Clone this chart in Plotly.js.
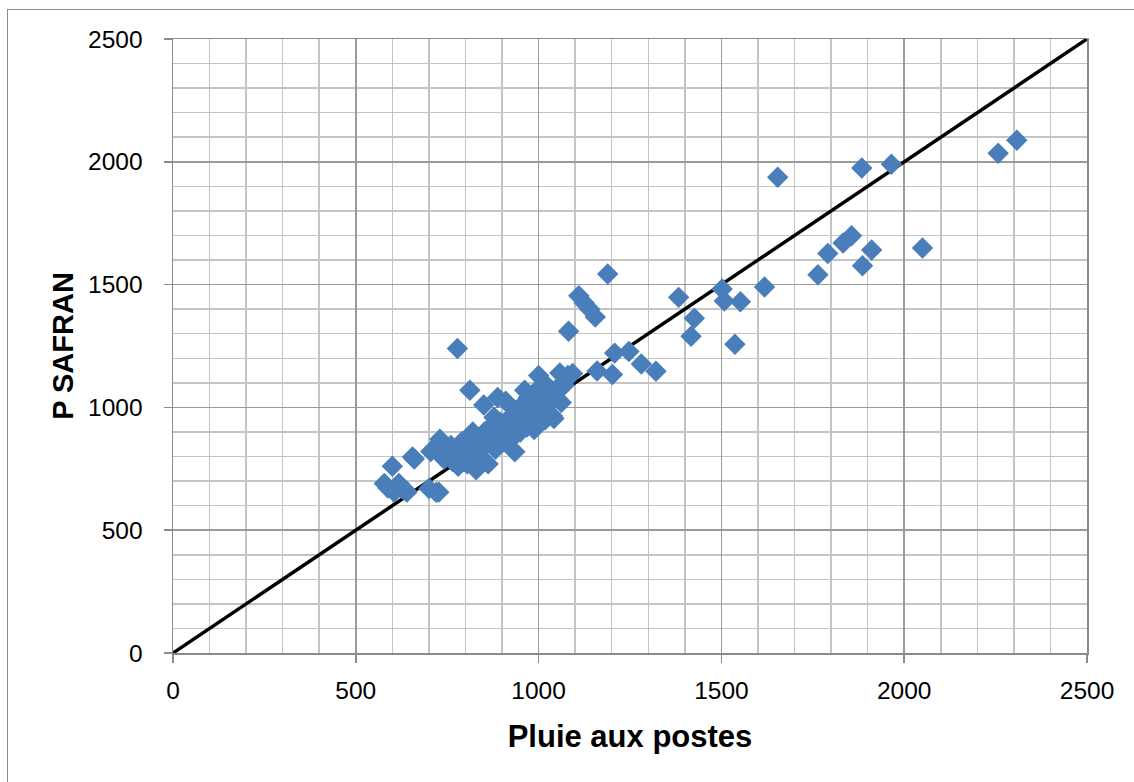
<!DOCTYPE html>
<html>
<head>
<meta charset="utf-8">
<script src="https://cdn.plot.ly/plotly-3.0.1.min.js"></script>
<style>
  html, body { margin: 0; padding: 0; background: #ffffff; }
  #wrap { position: relative; width: 1134px; height: 782px; overflow: hidden; }
  #chart { position: absolute; left: 0; top: 0; width: 1134px; height: 782px; }
  #frame { position: absolute; left: 7px; top: 9px; width: 1200px; height: 900px;
           border-left: 1.5px solid #8a8a8a; border-top: 1.5px solid #8a8a8a; pointer-events: none; }
</style>
</head>
<body>
<div id="wrap">
  <div id="chart"></div>
  <div id="frame"></div>
</div>
<script>
// Pluie aux postes (x) vs P SAFRAN (y)
const pluiePostes = [
  578, 588, 600, 605, 618, 628, 640, 655, 660, 700,
  705, 715, 727, 730, 735, 742, 750, 760, 765, 775,
  780, 785, 790, 795, 800, 805, 810, 812, 820, 822,
  828, 832, 835, 840, 845, 850, 852, 858, 862, 868,
  872, 878, 882, 888, 890, 895, 900, 905, 910, 915,
  920, 925, 935, 935, 940, 945, 950, 955, 960, 962,
  968, 972, 978, 982, 988, 990, 995, 1000, 1002, 1008,
  1012, 1018, 1022, 1028, 1032, 1038, 1042, 1048, 1052, 1058,
  1062, 1070, 1080, 1082, 1093, 1110, 1125, 1140, 1155, 1160,
  1189, 1202, 1208, 1247, 1281, 1321, 1383, 1417, 1426, 1502,
  1508, 1537, 1552, 1618, 1654, 1764, 1791, 1833, 1856, 1884,
  1886, 1911, 1965, 2050, 2257, 2308, 778, 720, 638, 829
];
const pSafran = [
  690, 672, 760, 655, 690, 668, 655, 798, 790, 670,
  820, 835, 655, 870, 800, 790, 820, 845, 780, 800,
  760, 830, 860, 780, 815, 770, 850, 1070, 900, 800,
  760, 780, 870, 830, 790, 1010, 900, 850, 770, 920,
  870, 960, 830, 1040, 900, 940, 880, 860, 1025, 950,
  900, 870, 819, 990, 930, 960, 900, 1010, 950, 1070,
  920, 1040, 980, 1050, 910, 1010, 960, 1130, 1080, 1000,
  1060, 950, 1090, 1020, 1070, 965, 955, 1040, 1080, 1140,
  1020, 1090, 1130, 1310, 1138, 1455, 1425, 1400, 1368, 1148,
  1543, 1134, 1221, 1228, 1177, 1147, 1448, 1290, 1363, 1482,
  1433, 1257, 1430, 1490, 1937, 1540, 1627, 1669, 1699, 1975,
  1577, 1641, 1990, 1649, 2035, 2088, 1240, 654, 660, 746
];
const refLineX = [0, 2500];
const refLineY = [0, 2500];
const axisTicks = [0, 500, 1000, 1500, 2000, 2500];
const xTitle = 'Pluie aux postes';
const yTitle = 'P SAFRAN';

const traces = [
  { x: refLineX, y: refLineY, type: 'scatter', mode: 'lines',
    line: { color: '#000000', width: 3.5 }, hoverinfo: 'skip', showlegend: false },
  { x: pluiePostes, y: pSafran, type: 'scatter', mode: 'markers',
    marker: { symbol: 'diamond', size: 16.5, color: '#4a7ebb', line: { width: 0 } },
    showlegend: false }
];

const axisCommon = {
  range: [0, 2500],
  tickvals: axisTicks,
  ticktext: axisTicks.map(String),
  ticks: 'outside', ticklen: 8, tickwidth: 1.5, tickcolor: '#8a8a8a',
  showline: true, linecolor: '#8a8a8a', linewidth: 1.5, mirror: true,
  showgrid: true, gridcolor: '#9a9a9a', gridwidth: 1.5,
  minor: { dtick: 100, tick0: 0, showgrid: true, gridcolor: '#c4c4c4', gridwidth: 1.5, ticks: '' },
  zeroline: false,
  tickfont: { family: 'Liberation Sans, Arial, sans-serif', size: 24.5, color: '#000000' },
  fixedrange: true
};

const layout = {
  width: 1134, height: 782,
  margin: { l: 173, r: 47, t: 39, b: 129 },
  paper_bgcolor: 'rgba(0,0,0,0)', plot_bgcolor: '#ffffff',
  xaxis: Object.assign({}, axisCommon, {
    ticklabelstandoff: 7,
    title: { text: xTitle, standoff: 22,
             font: { family: 'Liberation Sans, Arial, sans-serif', size: 31, color: '#000000', weight: 'bold' } }
  }),
  yaxis: Object.assign({}, axisCommon, {
    ticklabelstandoff: 16,
    title: { text: yTitle, standoff: 6,
             font: { family: 'Liberation Sans, Arial, sans-serif', size: 29, color: '#000000', weight: 'bold' } }
  }),
  showlegend: false
};

Plotly.newPlot('chart', traces, layout, { displayModeBar: false, staticPlot: true });
</script>
</body>
</html>
